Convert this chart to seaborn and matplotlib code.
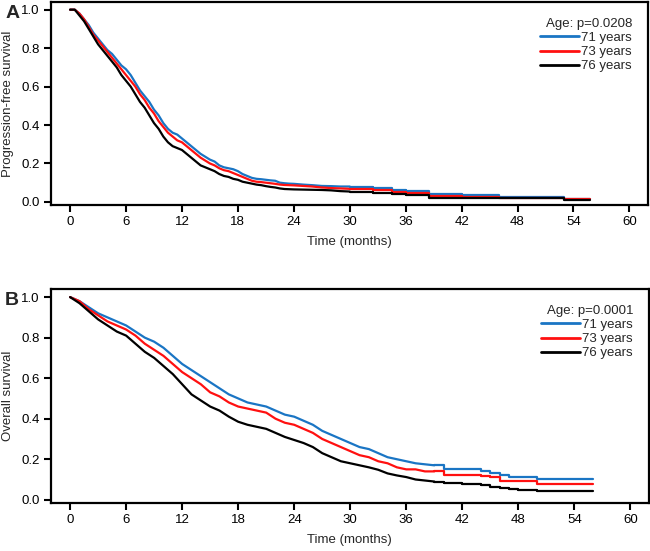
import pandas as pd
import matplotlib
matplotlib.use("Agg")
import matplotlib.pyplot as plt
import seaborn as sns

sns.set_style("white")
plt.rcParams['font.family'] = ['Liberation Sans', 'DejaVu Sans']

ages = ["71 years", "73 years", "76 years"]
colors = ["#1a75c4", "#ff1010", "#000000"]

# progression-free survival
pfs_time = [0, 0.5, 1, 1.5, 2, 2.5, 3, 3.5, 4, 4.5, 5, 5.5, 6, 6.5, 7, 7.5, 8, 8.5, 9, 9.5,
            10, 10.5, 11, 11.5, 12, 12.5, 13, 13.5, 14, 14.5, 15, 15.5, 16, 16.5, 17, 17.5,
            18, 18.5, 19, 19.5, 20, 20.5, 21, 21.5, 22, 22.5, 23, 23.5, 24, 25, 26, 27, 28,
            29, 30, 31, 32.5, 34.5, 36, 38.5, 42, 46, 53, 55.8]
pfs_71 = [1.0, 1.0, 0.98, 0.95, 0.92, 0.88, 0.85, 0.82, 0.79, 0.77, 0.74, 0.71, 0.69, 0.66,
          0.62, 0.58, 0.55, 0.52, 0.48, 0.45, 0.41, 0.38, 0.36, 0.35, 0.33, 0.31, 0.29, 0.27,
          0.25, 0.235, 0.22, 0.21, 0.19, 0.18, 0.175, 0.17, 0.16, 0.145, 0.135, 0.125, 0.12,
          0.118, 0.115, 0.112, 0.11, 0.10, 0.097, 0.095, 0.094, 0.09, 0.087, 0.083, 0.082,
          0.08, 0.08, 0.075, 0.07, 0.062, 0.055, 0.043, 0.037, 0.028, 0.013, 0.013]
pfs_73 = [1.0, 1.0, 0.98, 0.95, 0.91, 0.87, 0.84, 0.81, 0.78, 0.75, 0.72, 0.69, 0.66, 0.63,
          0.60, 0.56, 0.53, 0.49, 0.46, 0.42, 0.39, 0.36, 0.34, 0.32, 0.31, 0.29, 0.27, 0.25,
          0.23, 0.215, 0.20, 0.19, 0.175, 0.165, 0.16, 0.15, 0.14, 0.13, 0.12, 0.11, 0.105,
          0.103, 0.10, 0.097, 0.094, 0.09, 0.088, 0.087, 0.086, 0.083, 0.08, 0.075, 0.072,
          0.07, 0.068, 0.065, 0.06, 0.05, 0.046, 0.032, 0.026, 0.022, 0.013, 0.013]
pfs_76 = [1.0, 1.0, 0.97, 0.94, 0.90, 0.86, 0.82, 0.79, 0.76, 0.73, 0.70, 0.66, 0.63, 0.60,
          0.56, 0.52, 0.49, 0.45, 0.41, 0.38, 0.34, 0.31, 0.29, 0.28, 0.27, 0.25, 0.23, 0.21,
          0.19, 0.18, 0.17, 0.16, 0.145, 0.135, 0.13, 0.12, 0.115, 0.105, 0.10, 0.095, 0.09,
          0.087, 0.082, 0.078, 0.075, 0.07, 0.067, 0.066, 0.065, 0.064, 0.063, 0.062, 0.06,
          0.056, 0.054, 0.05, 0.046, 0.04, 0.036, 0.022, 0.02, 0.02, 0.012, 0.012]

# overall survival
os_time = [0, 1, 2, 3, 4, 5, 6, 7, 8, 9, 10, 11, 12, 13, 14, 15, 16, 17, 18, 19, 20, 21, 22,
           23, 24, 25, 26, 27, 28, 29, 30, 31, 32, 33, 34, 35, 36, 37, 38, 39, 40, 42, 44,
           45, 46, 47, 48, 50, 56]
os_71 = [1.0, 0.98, 0.95, 0.92, 0.90, 0.88, 0.86, 0.83, 0.80, 0.78, 0.75, 0.71, 0.67, 0.64,
         0.61, 0.58, 0.55, 0.52, 0.50, 0.48, 0.47, 0.46, 0.44, 0.42, 0.41, 0.39, 0.37, 0.34,
         0.32, 0.30, 0.28, 0.26, 0.25, 0.23, 0.21, 0.20, 0.19, 0.18, 0.175, 0.17, 0.15, 0.15,
         0.14, 0.13, 0.12, 0.11, 0.11, 0.10, 0.10]
os_73 = [1.0, 0.98, 0.94, 0.91, 0.88, 0.86, 0.84, 0.81, 0.77, 0.74, 0.71, 0.67, 0.63, 0.60,
         0.57, 0.53, 0.51, 0.48, 0.46, 0.45, 0.44, 0.43, 0.40, 0.38, 0.37, 0.35, 0.33, 0.30,
         0.28, 0.26, 0.24, 0.22, 0.21, 0.19, 0.18, 0.16, 0.15, 0.15, 0.14, 0.14, 0.12, 0.12,
         0.115, 0.11, 0.095, 0.095, 0.095, 0.078, 0.078]
os_76 = [1.0, 0.97, 0.93, 0.89, 0.86, 0.83, 0.81, 0.77, 0.73, 0.70, 0.66, 0.62, 0.57, 0.52,
         0.49, 0.46, 0.44, 0.41, 0.385, 0.37, 0.36, 0.35, 0.33, 0.31, 0.295, 0.28, 0.26, 0.23,
         0.21, 0.19, 0.18, 0.17, 0.16, 0.148, 0.13, 0.12, 0.112, 0.10, 0.095, 0.09, 0.082,
         0.08, 0.074, 0.065, 0.057, 0.053, 0.049, 0.044, 0.044]

xticks = [0, 6, 12, 18, 24, 30, 36, 42, 48, 54, 60]
yticks = [0.0, 0.2, 0.4, 0.6, 0.8, 1.0]


def long_df(t, curves):
    rows = []
    for age, vals in zip(ages, curves):
        for ti, v in zip(t, vals):
            rows.append({"time": ti, "surv": v, "age": age})
    return pd.DataFrame(rows)


fig = plt.figure(figsize=(6.5, 5.51), dpi=100)
axA = fig.add_axes([0.0777, 0.628, 0.9193, 0.3684])
axB = fig.add_axes([0.0777, 0.0871, 0.9208, 0.3884])

# dense part drawn as a line, sparse tail as steps
panels = [
    (axA, long_df(pfs_time, [pfs_71, pfs_73, pfs_76]), 30, "Progression-free survival", "Age: p=0.0208", "A"),
    (axB, long_df(os_time, [os_71, os_73, os_76]), 39, "Overall survival", "Age: p=0.0001", "B"),
]

for ax, df, cut, ylab, title, letter in panels:
    sns.lineplot(data=df[df.time <= cut], x="time", y="surv", hue="age", palette=colors,
                 estimator=None, linewidth=1.6, ax=ax)
    sns.lineplot(data=df[df.time >= cut], x="time", y="surv", hue="age", palette=colors,
                 estimator=None, drawstyle="steps-post", linewidth=1.6, ax=ax, legend=False)
    ax.set_xlim(-2.1, 62)
    ax.set_ylim(-0.016, 1.04)
    ax.set_xticks(xticks)
    ax.set_yticks(yticks)
    ax.set_yticklabels([f"{v:.1f}" for v in yticks])
    ax.tick_params(direction="out", length=5, width=1.5, labelsize=9.5, colors="black",
                   bottom=True, left=True, pad=3)
    for s in ax.spines.values():
        s.set_linewidth(1.6)
        s.set_color("black")
    ax.set_xlabel("Time (months)", fontsize=9.5, labelpad=6)
    ax.set_ylabel(ylab, fontsize=9.5, labelpad=5)
    h, l = ax.get_legend_handles_labels()
    leg = ax.legend(h, l, title=title, loc="upper right", frameon=False, fontsize=9.5,
                    title_fontsize=9.5, handlelength=3.0, handletextpad=0.15,
                    labelspacing=0.15, alignment="right", borderaxespad=0.8)
    for line in leg.get_lines():
        line.set_linewidth(2)
    fig.text(0.008, ax.get_position().y1 - 0.005, letter, fontsize=14, fontweight="bold",
             va="top", ha="left")

fig.savefig("out.png", dpi=100)
